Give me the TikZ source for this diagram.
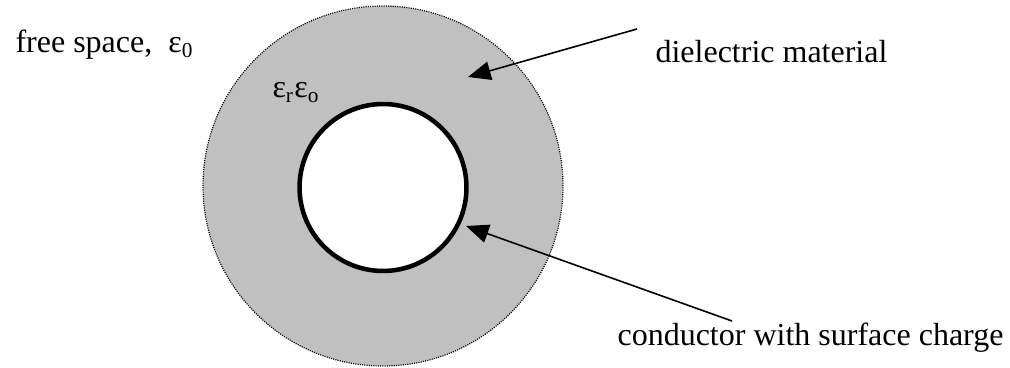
\documentclass[tikz,border=0pt]{standalone}
\usepackage{fontspec}
\setmainfont{Liberation Serif}
\usetikzlibrary{arrows.meta}
\definecolor{dgray}{RGB}{192,192,192}
\begin{document}
\begin{tikzpicture}[x=0.375pt,y=-0.375pt,
  lbl/.style={anchor=base west,inner sep=0pt,font=\fontsize{12}{14}\selectfont},
  dielnode/.style={circle,fill=dgray,draw=black,line width=0.45pt,
    dash pattern=on 0.4pt off 0.45pt,minimum size=135pt,inner sep=0pt},
  condnode/.style={circle,fill=white,draw=black,line width=1.7pt,
    minimum size=62.6pt,inner sep=0pt},
  arr/.style={line width=0.6pt,-{Triangle[length=8.5pt,width=7pt]}}]
\useasboundingbox (0,0) rectangle (1010,367);
\node[dielnode] (diel) at (383,186) {};
\node[condnode] (cond) at (383,187.5) {};
\node[lbl] (free) at (15,53) {free space,\ \ ε\textsubscript{0}};
\node[lbl] (eps) at (272,98) {ε\textsubscript{r}ε\textsubscript{o}};
\node[lbl] (dlab) at (655,63) {dielectric material};
\node[lbl] (clab) at (617,345) {conductor with surface charge};
\coordinate (d1) at (637,29);
\coordinate (d2) at (468,77);
\coordinate (c1) at (732,321);
\coordinate (c2) at (466,226);
\draw[arr] (d1) -- (d2);
\draw[arr] (c1) -- (c2);
\end{tikzpicture}
\end{document}
